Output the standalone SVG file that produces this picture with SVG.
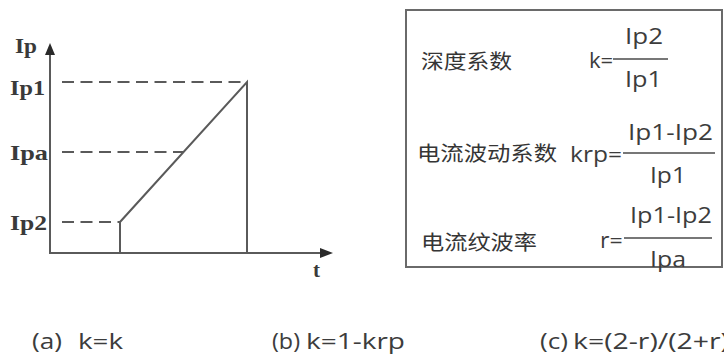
<svg xmlns="http://www.w3.org/2000/svg" width="724" height="355" viewBox="0 0 724 355">
  <style>
    .ax { stroke: #5a5a5a; stroke-width: 2; fill: none; }
    .dash { stroke: #5a5a5a; stroke-width: 2; fill: none; stroke-dasharray: 12 6.5; }
    .lbl { font-family: "Liberation Serif", "Times New Roman", serif; font-weight: bold; font-size: 21px; fill: #3a3a3a; }
    .cn { font-family: "Noto Sans CJK SC", "Noto Sans", sans-serif; font-size: 20px; fill: #353535; }
    .f { font-family: "Open Sans", "Noto Sans", sans-serif; font-size: 21px; fill: #3c3c3c; }
    .cap { font-family: "Open Sans", "Noto Sans", sans-serif; font-size: 22px; fill: #3c3c3c; }
    .fl { stroke: #4a4a4a; stroke-width: 1.6; }
  </style>
  <rect width="724" height="355" fill="#ffffff"/>

  <g id="graph">
    <line class="ax" x1="50" y1="253" x2="50" y2="52"/>
    <polygon points="50,43 45,55 55,55" fill="#2a2a2a"/>
    <line class="ax" x1="49" y1="253" x2="322" y2="253"/>
    <polygon points="333,253 320,248 320,258" fill="#2a2a2a"/>
    <line class="dash" x1="62" y1="82" x2="247" y2="82"/>
    <line class="dash" x1="62" y1="152" x2="183" y2="152"/>
    <line class="dash" x1="62" y1="222" x2="120" y2="222"/>
    <polyline class="ax" points="120,253 120,222 247,82 247,253"/>
    <text class="lbl" x="15" y="53" textLength="22" lengthAdjust="spacingAndGlyphs">Ip</text>
    <text class="lbl" x="10" y="95" textLength="35" lengthAdjust="spacingAndGlyphs">Ip1</text>
    <text class="lbl" x="10" y="160" textLength="38" lengthAdjust="spacingAndGlyphs">Ipa</text>
    <text class="lbl" x="10" y="230" textLength="37" lengthAdjust="spacingAndGlyphs">Ip2</text>
    <text class="lbl" x="313" y="277">t</text>
  </g>

  <g id="formula-box">
    <rect x="406" y="10" width="316" height="257" fill="none" stroke="#6a6a6a" stroke-width="2"/>
  </g>

  <g id="depth-coefficient">
    <text class="cn" x="421" y="69" textLength="91" lengthAdjust="spacingAndGlyphs">深度系数</text>
    <text class="f" transform="translate(589,68) scale(1.05,1)">k=</text>
    <line class="fl" x1="613" y1="59" x2="668" y2="59"/>
    <text class="f" x="625" y="44" textLength="38" lengthAdjust="spacingAndGlyphs">Ip2</text>
    <text class="f" x="625" y="87" textLength="37" lengthAdjust="spacingAndGlyphs">Ip1</text>
  </g>

  <g id="ripple-coefficient">
    <text class="cn" x="417" y="161" textLength="140" lengthAdjust="spacingAndGlyphs">电流波动系数</text>
    <text class="f" x="570" y="162" textLength="52" lengthAdjust="spacingAndGlyphs">krp=</text>
    <line class="fl" x1="623" y1="153" x2="715" y2="153"/>
    <text class="f" x="628" y="140" textLength="85" lengthAdjust="spacingAndGlyphs">Ip1-Ip2</text>
    <text class="f" x="650" y="183" textLength="36" lengthAdjust="spacingAndGlyphs">Ip1</text>
  </g>

  <g id="ripple-ratio">
    <text class="cn" x="421" y="250" textLength="116" lengthAdjust="spacingAndGlyphs">电流纹波率</text>
    <text class="f" transform="translate(600,248) scale(1.1,1)">r=</text>
    <line class="fl" x1="624" y1="238" x2="712" y2="238"/>
    <text class="f" x="630" y="223" textLength="82" lengthAdjust="spacingAndGlyphs">Ip1-Ip2</text>
    <text class="f" x="650" y="267" textLength="36" lengthAdjust="spacingAndGlyphs">Ipa</text>
  </g>

  <g id="captions">
    <text class="cap" y="349"><tspan x="32" textLength="30" lengthAdjust="spacingAndGlyphs">(a)</tspan><tspan x="78" textLength="45" lengthAdjust="spacingAndGlyphs">k=k</tspan></text>
    <text class="cap" y="349"><tspan x="272" textLength="28" lengthAdjust="spacingAndGlyphs">(b)</tspan><tspan x="306" textLength="99" lengthAdjust="spacingAndGlyphs">k=1-krp</tspan></text>
    <text class="cap" y="349"><tspan x="540" textLength="28" lengthAdjust="spacingAndGlyphs">(c)</tspan><tspan x="573" textLength="156" lengthAdjust="spacingAndGlyphs">k=(2-r)/(2+r)</tspan></text>
  </g>
</svg>
